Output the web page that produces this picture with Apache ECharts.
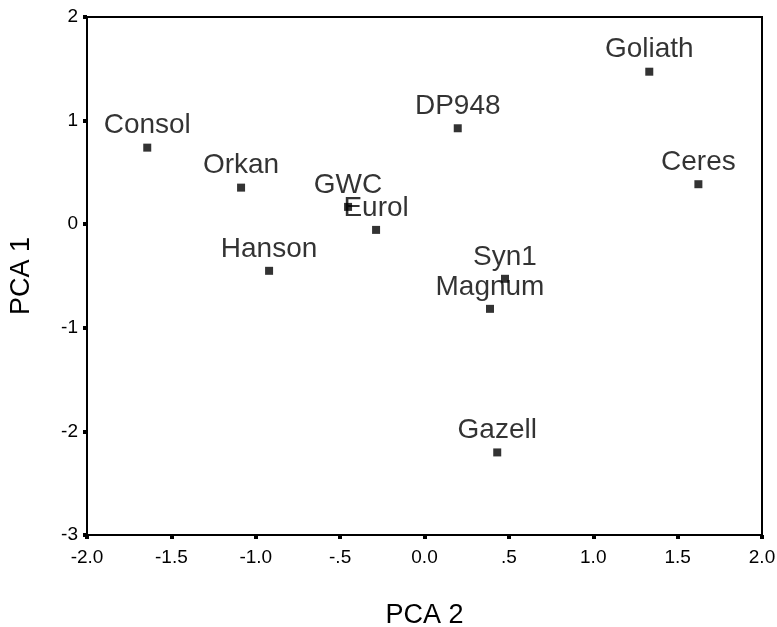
<!DOCTYPE html>
<html>
<head>
<meta charset="utf-8">
<script src="https://cdn.jsdelivr.net/npm/echarts@6/dist/echarts.min.js"></script>
<style>
  html, body { margin: 0; padding: 0; background: #fff; }
  #chart { width: 777px; height: 627px; }
</style>
</head>
<body>
<div id="chart"></div>
<script>
// cultivar names and their PCA scores
const names = ['Consol', 'Orkan', 'Hanson', 'GWC', 'Eurol', 'DP948', 'Goliath', 'Ceres', 'Syn1', 'Magnum', 'Gazell']
const pca2 = [-1.643, -1.087, -0.921, -0.453, -0.287, 0.197, 1.332, 1.623, 0.477, 0.388, 0.431]
const pca1 = [0.739, 0.353, -0.450, 0.167, -0.055, 0.926, 1.472, 0.386, -0.527, -0.817, -2.203]

const font = '"Liberation Sans", Arial, sans-serif'

// SPSS style tick labels: ".5" instead of "0.5"
function fmtX(v) {
    let s = v.toFixed(1)
    if (s === '0.5') s = '.5'
    if (s === '-0.5') s = '-.5'
    return s
}

var myChart = echarts.init(document.getElementById('chart'), null, { renderer: 'canvas' })

var option = {
    animation: false,
    backgroundColor: '#fff',
    grid: {
        left: 87,
        right: 15,
        top: 17,
        bottom: 92,
        outerBoundsMode: 'none',
        containLabel: false,
        show: true,
        borderColor: '#000',
        borderWidth: 2,
        backgroundColor: 'transparent'
    },
    xAxis: {
        type: 'value',
        min: -2,
        max: 2,
        interval: 0.5,
        name: 'PCA 2',
        nameLocation: 'middle',
        nameGap: 67,
        nameTextStyle: { fontFamily: font, fontSize: 27, color: '#000' },
        axisLine: { onZero: false, lineStyle: { color: '#000', width: 2 } },
        axisTick: { show: true, length: 4, lineStyle: { color: '#000', width: 4 } },
        axisLabel: { formatter: fmtX, fontFamily: font, fontSize: 19, color: '#000', margin: 13 },
        splitLine: { show: false }
    },
    yAxis: {
        type: 'value',
        min: -3,
        max: 2,
        interval: 1,
        name: 'PCA 1',
        nameLocation: 'middle',
        nameGap: 52,
        nameTextStyle: { fontFamily: font, fontSize: 27, color: '#000' },
        axisLine: { onZero: false, lineStyle: { color: '#000', width: 2 } },
        axisTick: { show: true, length: 4, lineStyle: { color: '#000', width: 4 } },
        axisLabel: { fontFamily: font, fontSize: 19, color: '#000', margin: 9 },
        splitLine: { show: false }
    },
    series: [
        {
            type: 'scatter',
            symbol: 'rect',
            symbolSize: 8,
            itemStyle: { color: '#000' },
            label: {
                show: true,
                position: 'top',
                distance: 4,
                formatter: p => p.data[2],
                fontFamily: font,
                fontSize: 28,
                color: '#000'
            },
            data: names.map((n, i) => [pca2[i], pca1[i], n])
        }
    ]
}

myChart.setOption(option)
</script>
</body>
</html>
